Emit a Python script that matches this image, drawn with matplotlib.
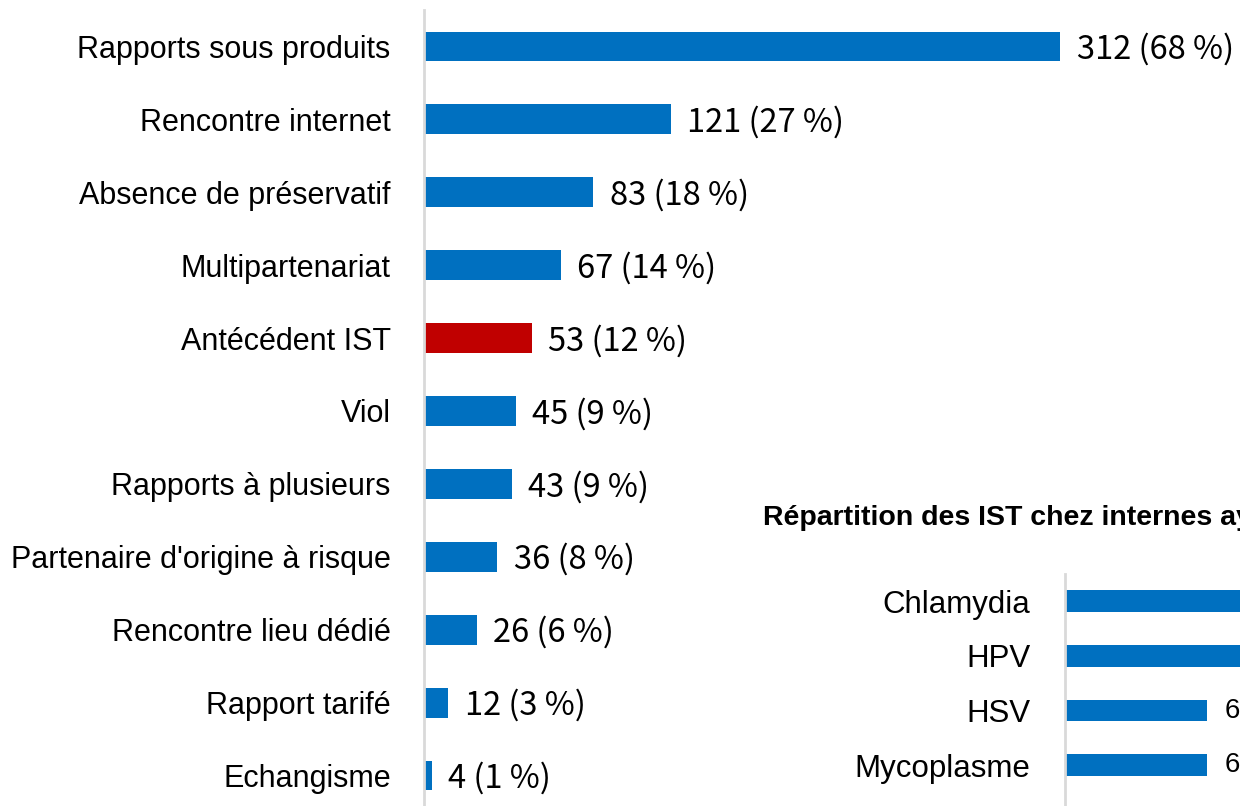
import matplotlib
matplotlib.use('Agg')
import matplotlib.pyplot as plt

# facteurs de risque declares
labels = ['Rapports sous produits', 'Rencontre internet', 'Absence de préservatif',
          'Multipartenariat', 'Antécédent IST', 'Viol', 'Rapports à plusieurs',
          "Partenaire d'origine à risque", 'Rencontre lieu dédié', 'Rapport tarifé',
          'Echangisme']
counts = [312, 121, 83, 67, 53, 45, 43, 36, 26, 12, 4]
percents = [68, 27, 18, 14, 12, 9, 9, 8, 6, 3, 1]
highlight = 'Antécédent IST'

# repartition des IST (encart)
ist_title = 'Répartition des IST chez internes ayant eu une IST'
ist_labels = ['Chlamydia', 'HPV', 'HSV', 'Mycoplasme', 'Trichomonas Vaginalis']
ist_counts = [14, 12, 6, 6, 2]

label_font = 'Liberation Sans'
num_font = ['Noto Sans CJK JP', 'DejaVu Sans']

blue = '#0070C0'
red = '#C00000'
grey = '#D9D9D9'

W, H = 1240, 806
fig = plt.figure(figsize=(W / 100, H / 100), dpi=100)

# main chart
ax = fig.add_axes([424 / W, -6 / H, (W - 424) / W, 802 / H])
ypos = list(range(len(labels)))
colors = [red if l == highlight else blue for l in labels]
ax.barh(ypos, counts, height=0.41, color=colors)
ax.set_xlim(0, 400)
ax.set_ylim(len(labels) - 0.5, -0.5)
ax.set_yticks(ypos)
ax.set_yticklabels(labels, fontsize=22, family=label_font)
ax.tick_params(axis='y', length=0, pad=24)
ax.set_xticks([])
for s in ['top', 'right', 'bottom']:
    ax.spines[s].set_visible(False)
ax.spines['left'].set_color(grey)
ax.spines['left'].set_linewidth(2)
for i in range(len(labels)):
    ax.text(counts[i] + 8, i + 0.04, f'{counts[i]} ({percents[i]} %)', va='center',
            ha='left', fontsize=23.5, family=num_font, color='black')

# inset chart
ax2 = fig.add_axes([1065 / W, -41 / H, 480 / W, 273 / H])
y2 = list(range(len(ist_labels)))
ax2.barh(y2, ist_counts, height=0.40, color=blue)
ax2.set_xlim(0, 20.25)
ax2.set_ylim(len(ist_labels) - 0.5, -0.5)
ax2.set_yticks(y2)
ax2.set_yticklabels(ist_labels, fontsize=22.5, family=label_font)
ax2.tick_params(axis='y', length=0, pad=25)
ax2.set_xticks([])
for s in ['top', 'right', 'bottom']:
    ax2.spines[s].set_visible(False)
ax2.spines['left'].set_color(grey)
ax2.spines['left'].set_linewidth(2)
for i in range(len(ist_labels)):
    ax2.text(ist_counts[i] + 0.75, i, f'{ist_counts[i]}', va='center', ha='left',
             fontsize=20, family=label_font)
fig.text(763 / W, 1 - 518 / H, ist_title, fontsize=20.5, fontweight='bold',
         family=label_font, va='center', ha='left')

fig.savefig('out.png', dpi=100)
